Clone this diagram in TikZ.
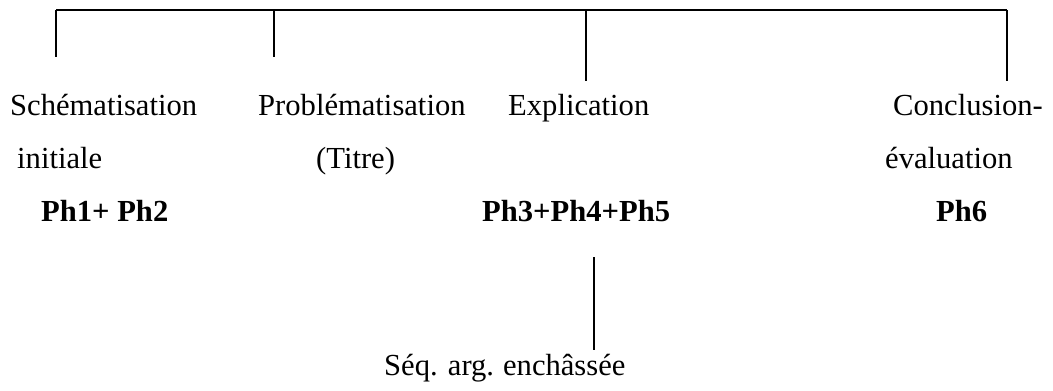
\documentclass[tikz,border=0pt]{standalone}
\usepackage{fontspec}
\setmainfont{Liberation Serif}
\begin{document}
\begin{tikzpicture}[x=1pt,y=-1pt,
  lbl/.style={inner sep=0pt,anchor=base west,font=\fontsize{30.6}{36}\selectfont},
  phase/.style={lbl,font=\fontsize{30.6}{36}\selectfont\bfseries},
  link/.style={draw=black,line width=1.6pt}]
\useasboundingbox (0,0) rectangle (1053,391);

% top bracket and its four branches
\coordinate (top1) at (56,10);
\coordinate (top2) at (274,10);
\coordinate (top3) at (586,10);
\coordinate (top4) at (1007,10);
\coordinate (end1) at (56,57);
\coordinate (end2) at (274,57);
\coordinate (end3) at (586,81);
\coordinate (end4) at (1007,81);

% first row
\node[lbl] (schema) at (10,115) {Schématisation};
\node[lbl] (proble) at (258,115) {Problématisation};
\node[lbl] (explic) at (508,115) {Explication};
\node[lbl] (concl)  at (893,115) {Conclusion-};

% second row
\node[lbl] (init)  at (17,168) {initiale};
\node[lbl] (titre) at (316,168) {(Titre)};
\node[lbl] (evalu) at (885,168) {évaluation};

% phase numbers
\node[phase] (ph12)  at (41,221) {Ph1+ Ph2};
\node[phase] (ph345) at (482,221) {Ph3+Ph4+Ph5};
\node[phase] (ph6)   at (936,221) {Ph6};

% embedded sequence
\coordinate (seqtop) at (594,257);
\coordinate (seqbot) at (594,350);
\node[lbl] (seq) at (384,375) {Séq. arg.\hspace{9pt}enchâssée};

\draw[link] (top1) -- (top4);
\draw[link] (top1) -- (end1);
\draw[link] (top2) -- (end2);
\draw[link] (top3) -- (end3);
\draw[link] (top4) -- (end4);
\draw[link] (seqtop) -- (seqbot);
\end{tikzpicture}
\end{document}
